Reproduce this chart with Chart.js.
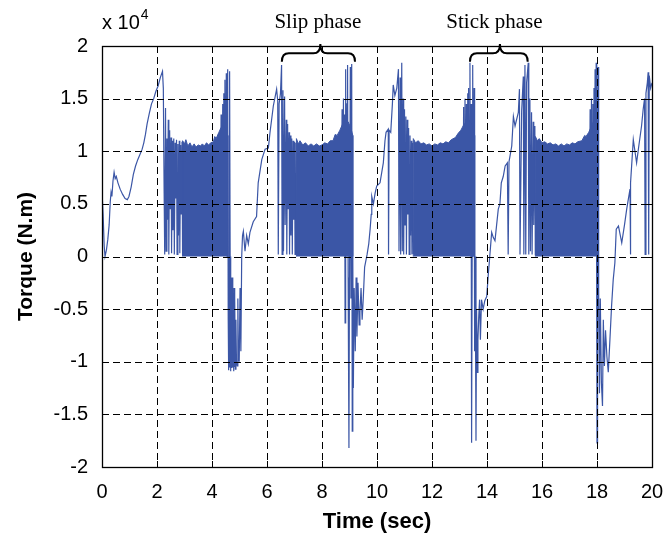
<!DOCTYPE html>
<html>
<head>
<meta charset="utf-8">
<title>Torque vs time</title>
<script src="https://cdn.jsdelivr.net/npm/chart.js@4.4.1/dist/chart.umd.min.js"></script>
<style>
    html, body { margin: 0; padding: 0; background: #fff; }
    #wrap { width: 667px; height: 537px; }
</style>
</head>
<body>
<div id="wrap"><canvas id="torqueChart" width="667" height="537"></canvas></div>
<script>
// Torque in units of 1e4 N.m, time in seconds: [t, torque]
const startupRamp = [
    [0.00, 0.62], [0.04, 0.40], [0.08, 0.10], [0.11, 0.00], [0.16, 0.06], [0.21, 0.16],
    [0.26, 0.30], [0.30, 0.52], [0.33, 0.61], [0.36, 0.57], [0.40, 0.72], [0.44, 0.80],
    [0.48, 0.74], [0.52, 0.76], [0.58, 0.70], [0.66, 0.64], [0.75, 0.59], [0.84, 0.55],
    [0.92, 0.54], [0.98, 0.57], [1.06, 0.66], [1.14, 0.78], [1.22, 0.86], [1.30, 0.92],
    [1.38, 0.97], [1.46, 1.02], [1.52, 1.08], [1.58, 1.16], [1.64, 1.26], [1.72, 1.36],
    [1.80, 1.45], [1.88, 1.50], [1.96, 1.57], [2.04, 1.62], [2.12, 1.70], [2.20, 1.76],
    [2.23, 1.60], [2.26, 0.60], [2.28, 0.02]
];

const cycle1Lead = [
    [2.31, 1.41], [2.33, 0.05], [2.36, 1.12], [2.38, 0.35], [2.41, 1.30], [2.43, 0.02],
    [2.46, 1.20], [2.48, 0.45], [2.51, 1.13], [2.53, 0.03], [2.56, 1.10], [2.58, 0.25],
    [2.61, 1.12], [2.63, 0.02], [2.66, 1.08], [2.68, 0.55], [2.71, 1.11], [2.73, 0.02],
    [2.76, 1.07], [2.78, 0.20], [2.81, 1.10], [2.83, 0.03], [2.86, 1.06], [2.88, 0.40],
    [2.91, 1.09], [2.93, 0.02]
];

const cycle1Tail = [
    [4.30, 0.05], [4.33, 1.35], [4.36, 0.10], [4.39, 1.45], [4.41, 0.05],
    [4.43, 1.55], [4.45, 0.10], [4.47, 1.68], [4.49, 0.05], [4.52, 1.74], [4.54, 0.00],
    [4.57, 1.78], [4.59, -0.60], [4.60, -1.08], [4.61, 0.00], [4.62, -1.05], [4.63, 0.00],
    [4.65, 1.76], [4.66, 0.00], [4.67, -1.09], [4.68, -0.10], [4.69, -1.09], [4.70, -0.20],
    [4.71, -1.06], [4.72, -0.30], [4.74, -1.05], [4.75, -0.20], [4.76, -1.02], [4.77, -0.50],
    [4.79, -1.09], [4.80, -0.30], [4.82, -1.05], [4.83, -0.40], [4.85, -1.07], [4.87, -0.60],
    [4.89, -1.00], [4.92, -1.04], [4.94, -0.40], [4.96, -0.95], [4.99, -1.00], [5.02, -0.30],
    [5.05, -0.90], [5.08, 0.00], [5.11, 0.20], [5.14, 0.24], [5.20, 0.05], [5.26, 0.20],
    [5.32, 0.12], [5.38, 0.23], [5.50, 0.33], [5.62, 0.38], [5.68, 0.70], [5.81, 0.92],
    [5.93, 1.02], [6.05, 1.03], [6.11, 1.18], [6.23, 1.43], [6.35, 1.59], [6.39, 1.48],
    [6.41, 0.02], [6.44, 1.45], [6.49, 1.55], [6.53, 1.82], [6.55, 0.02]
];

const cycle2Lead = [
    [6.58, 1.58], [6.60, 0.05], [6.64, 1.52], [6.66, 0.30], [6.70, 1.30], [6.72, 0.02],
    [6.75, 1.26], [6.77, 0.45], [6.80, 1.18], [6.82, 0.02], [6.85, 1.15], [6.87, 0.20],
    [6.90, 1.12], [6.92, 0.02], [6.95, 1.10], [6.97, 0.35], [7.00, 1.09], [7.02, 0.02],
    [7.05, 1.08], [7.07, 0.03]
];

const cycle2Tail = [
    [8.70, 0.05], [8.73, 1.40], [8.75, 0.10], [8.78, 1.50], [8.80, 0.05],
    [8.82, 1.35], [8.84, -0.63], [8.86, 1.78], [8.88, 0.00], [8.91, 1.45], [8.93, 1.82],
    [8.95, -0.20], [8.98, -1.82], [9.00, 0.00], [9.03, 1.80], [9.05, -0.40], [9.08, 1.83],
    [9.10, -1.66], [9.12, 0.00], [9.14, -1.25], [9.17, -0.30], [9.21, -0.90], [9.24, -0.20],
    [9.27, -0.76], [9.31, -0.25], [9.35, -0.65], [9.38, -0.53], [9.42, -0.30], [9.46, -0.60],
    [9.50, -0.40], [9.55, -0.10], [9.64, 0.02], [9.70, 0.12], [9.75, 0.26], [9.79, 0.40],
    [9.81, 0.57], [9.87, 0.50], [9.93, 0.60], [9.99, 0.67], [10.11, 0.70], [10.23, 0.89],
    [10.29, 1.10], [10.33, 1.18], [10.41, 1.21], [10.42, 0.02], [10.44, 1.20], [10.50, 1.18],
    [10.56, 1.45], [10.59, 1.63], [10.65, 1.53], [10.72, 1.60], [10.78, 1.78], [10.80, 0.05],
    [10.84, 1.70], [10.86, 0.02], [10.90, 1.84], [10.92, 0.05]
];

const cycle3Lead = [
    [10.95, 1.50], [10.97, 0.02], [11.00, 1.40], [11.02, 0.30], [11.05, 1.33], [11.07, 0.02],
    [11.10, 1.30], [11.12, 0.40], [11.15, 1.22], [11.17, 0.02], [11.20, 1.15], [11.22, 0.20],
    [11.25, 1.10], [11.27, 0.02], [11.30, 1.08], [11.32, 0.03]
];

const cycle3Tail = [
    [13.12, 0.05], [13.15, 1.42], [13.17, 0.05], [13.20, 1.50], [13.22, 0.05],
    [13.25, 1.45], [13.27, 0.05], [13.30, 1.55], [13.31, 0.05],
    [13.33, 1.60], [13.36, 0.02], [13.38, 1.84], [13.40, 0.00], [13.42, 1.45],
    [13.44, -1.77], [13.46, 0.00], [13.48, 1.82], [13.50, 0.10], [13.53, 1.60], [13.55, -0.90],
    [13.57, 0.00], [13.60, -1.75], [13.62, -0.50], [13.65, -1.10], [13.67, -0.79], [13.70, -0.57],
    [13.73, -0.41], [13.76, -0.79], [13.80, -0.41], [13.86, -0.50], [13.92, -0.42], [13.99, -0.38],
    [14.05, -0.16], [14.10, 0.00], [14.17, 0.23], [14.23, 0.18], [14.29, 0.15], [14.35, 0.30],
    [14.41, 0.45], [14.47, 0.50], [14.52, 0.70], [14.59, 0.76], [14.66, 0.86], [14.74, 0.89],
    [14.77, 0.02], [14.80, 0.90], [14.90, 1.05], [14.96, 1.33], [15.02, 1.24], [15.14, 1.37],
    [15.18, 1.59], [15.20, 0.02], [15.26, 1.38], [15.32, 1.71], [15.34, 0.02], [15.38, 1.82],
    [15.41, 0.02], [15.44, 1.65], [15.50, 1.84], [15.52, 0.02], [15.56, 1.50], [15.58, 0.05],
    [15.62, 1.37], [15.64, 0.02], [15.68, 1.28], [15.70, 0.30], [15.74, 1.24], [15.76, 0.02]
];

const cycle4Tail = [
    [17.72, 0.05], [17.75, 1.40], [17.77, 0.05], [17.80, 1.50], [17.82, 0.05],
    [17.85, 1.45], [17.87, 0.05], [17.89, 1.60], [17.91, 0.02], [17.93, 1.78], [17.95, 0.05], [17.97, 1.84],
    [17.99, -0.50], [18.00, -1.77], [18.02, 0.00], [18.04, 1.80], [18.06, -0.30], [18.09, -1.30],
    [18.12, -0.40], [18.16, -1.20], [18.20, -1.42], [18.23, -0.60], [18.27, -1.04], [18.31, -0.70],
    [18.36, -0.95], [18.41, -1.10], [18.47, -0.79], [18.53, -0.47], [18.59, -0.22], [18.65, -0.06],
    [18.70, 0.26], [18.78, 0.29], [18.90, 0.13], [19.00, 0.30], [19.08, 0.45], [19.20, 0.64],
    [19.21, 0.02], [19.23, 0.70], [19.32, 1.11], [19.38, 1.00], [19.44, 0.89], [19.52, 1.05],
    [19.62, 1.24], [19.68, 1.40], [19.73, 1.50], [19.75, 0.02], [19.78, 1.55], [19.83, 1.65],
    [19.86, 1.75], [19.88, 0.02], [19.90, 1.72], [19.95, 1.60], [20.00, 1.65]
];

// upper envelope of the fast stick-slip chatter, filled down to zero
const band1Top = [
    [2.93, 0], [2.93, 1.10], [3.00, 1.07], [3.05, 1.11], [3.12, 1.05], [3.20, 1.08],
    [3.27, 1.04], [3.35, 1.07], [3.42, 1.04], [3.50, 1.06], [3.58, 1.05], [3.65, 1.07],
    [3.72, 1.05], [3.80, 1.08], [3.88, 1.06], [3.95, 1.08], [4.05, 1.09], [4.10, 1.14],
    [4.15, 1.12], [4.25, 1.18], [4.32, 1.22], [4.40, 1.25], [4.48, 1.22], [4.55, 1.15], [4.58, 0]
];
const band2Top = [
    [7.07, 0], [7.07, 1.12], [7.14, 1.07], [7.20, 1.10], [7.30, 1.06], [7.40, 1.08],
    [7.50, 1.05], [7.60, 1.07], [7.70, 1.05], [7.80, 1.07], [7.90, 1.05], [8.00, 1.06],
    [8.10, 1.08], [8.20, 1.07], [8.30, 1.10], [8.40, 1.10], [8.48, 1.16], [8.55, 1.15],
    [8.65, 1.20], [8.75, 1.26], [8.85, 1.30], [8.95, 1.28], [9.05, 1.22], [9.12, 1.15], [9.12, 0]
];
const band3Top = [
    [11.32, 0], [11.32, 1.12], [11.40, 1.08], [11.50, 1.10], [11.60, 1.07], [11.70, 1.08],
    [11.80, 1.06], [11.90, 1.07], [12.00, 1.05], [12.10, 1.07], [12.20, 1.06], [12.30, 1.08],
    [12.40, 1.07], [12.50, 1.09], [12.60, 1.08], [12.70, 1.11], [12.85, 1.13], [12.95, 1.17],
    [13.05, 1.20], [13.15, 1.25], [13.25, 1.28], [13.35, 1.30], [13.45, 1.25], [13.55, 1.15], [13.55, 0]
];
const band4Top = [
    [15.76, 0], [15.76, 1.14], [15.83, 1.10], [15.90, 1.12], [16.00, 1.08], [16.10, 1.09],
    [16.20, 1.07], [16.30, 1.08], [16.40, 1.06], [16.50, 1.07], [16.60, 1.05], [16.70, 1.07],
    [16.80, 1.05], [16.90, 1.07], [17.00, 1.06], [17.10, 1.08], [17.20, 1.07], [17.30, 1.09],
    [17.45, 1.10], [17.55, 1.15], [17.60, 1.14], [17.70, 1.18], [17.80, 1.24], [17.90, 1.30],
    [17.98, 1.30], [18.05, 1.20], [18.05, 0]
];

const xTicks = [0, 2, 4, 6, 8, 10, 12, 14, 16, 18, 20];
const yTicks = [-2, -1.5, -1, -0.5, 0, 0.5, 1, 1.5, 2];
const yTickLabels = ['-2', '-1.5', '-1', '-0.5', '0', '0.5', '1', '1.5', '2'];

// phase labels: [text, text centre, brace start, brace peak, brace end] in seconds
const phaseNotes = [
    ['Slip phase', 7.85, 6.54, 7.94, 9.20],
    ['Stick phase', 14.27, 13.38, 14.47, 15.48]
];

const BLUE = '#3b56a6';
const SANS = '"Liberation Sans", Arial, Helvetica, sans-serif';
const SERIF = '"Liberation Serif", "Times New Roman", serif';

const toPoints = rows => rows.map(([x, y]) => ({ x, y }));
const gap = t => ({ x: t, y: null });

const tracePoints = toPoints([].concat(
    startupRamp, cycle1Lead, cycle1Tail, cycle2Lead, cycle2Tail,
    cycle3Lead, cycle3Tail, cycle4Tail
));

const bandPoints = [].concat(
    toPoints(band1Top), [gap(5)], toPoints(band2Top), [gap(10)],
    toPoints(band3Top), [gap(14)], toPoints(band4Top)
);

// grid on top of the data, box with inward ticks, braces and labels
const frameAndNotes = {
    id: 'frameAndNotes',
    afterDatasetsDraw(chart) {
        const { ctx, chartArea: { left, right, top, bottom }, scales: { x, y } } = chart;
        const line = (x1, y1, x2, y2) => {
            ctx.beginPath();
            ctx.moveTo(x1, y1);
            ctx.lineTo(x2, y2);
            ctx.stroke();
        };
        ctx.save();
        ctx.strokeStyle = '#000';
        ctx.lineWidth = 1;

        ctx.setLineDash([7, 4]);
        xTicks.slice(1, -1).forEach(v => {
            const px = Math.round(x.getPixelForValue(v)) + 0.5;
            line(px, top, px, bottom);
        });
        yTicks.slice(1, -1).forEach(v => {
            const py = Math.round(y.getPixelForValue(v)) + 0.5;
            line(left, py, right, py);
        });
        ctx.setLineDash([]);

        xTicks.forEach(v => {
            const px = Math.round(x.getPixelForValue(v)) + 0.5;
            line(px, bottom, px, bottom - 6);
            line(px, top, px, top + 6);
        });
        yTicks.forEach(v => {
            const py = Math.round(y.getPixelForValue(v)) + 0.5;
            line(left, py, left + 6, py);
            line(right, py, right - 6, py);
        });
        ctx.lineWidth = 1.3;
        ctx.strokeRect(Math.round(left) + 0.5, Math.round(top) + 0.5,
            Math.round(right - left), Math.round(bottom - top));

        // exponent of the y axis
        ctx.fillStyle = '#000';
        ctx.textBaseline = 'alphabetic';
        ctx.textAlign = 'left';
        ctx.font = '20px ' + SANS;
        ctx.fillText('x 10', left, 29);
        const w = ctx.measureText('x 10').width;
        ctx.font = '14px ' + SANS;
        ctx.fillText('4', left + w + 1, 19);

        // curly braces over the phases
        ctx.lineWidth = 2;
        const yb = y.getPixelForValue(1.85);
        const ym = y.getPixelForValue(1.93);
        const yt = y.getPixelForValue(2.02);
        const r = 7;
        phaseNotes.forEach(([text, tText, t1, tc, t2]) => {
            const x1 = x.getPixelForValue(t1);
            const xc = x.getPixelForValue(tc);
            const x2 = x.getPixelForValue(t2);
            ctx.beginPath();
            ctx.moveTo(x1, yb);
            ctx.quadraticCurveTo(x1, ym, x1 + r, ym);
            ctx.lineTo(xc - r, ym);
            ctx.quadraticCurveTo(xc, ym, xc, yt);
            ctx.quadraticCurveTo(xc, ym, xc + r, ym);
            ctx.lineTo(x2 - r, ym);
            ctx.quadraticCurveTo(x2, ym, x2, yb);
            ctx.stroke();

            ctx.font = '21px ' + SERIF;
            ctx.textAlign = 'center';
            ctx.fillText(text, x.getPixelForValue(tText), 28);
        });
        ctx.restore();
    }
};

const ctx = document.getElementById('torqueChart').getContext('2d');
new Chart(ctx, {
    type: 'line',
    data: {
        datasets: [
            {
                label: 'chatter',
                data: bandPoints,
                borderColor: BLUE,
                backgroundColor: BLUE,
                borderWidth: 1,
                pointRadius: 0,
                fill: 'origin',
                spanGaps: false,
                tension: 0
            },
            {
                label: 'Torque',
                data: tracePoints,
                borderColor: BLUE,
                borderWidth: 1.2,
                pointRadius: 0,
                fill: false,
                tension: 0
            }
        ]
    },
    options: {
        responsive: false,
        animation: false,
        layout: { padding: { top: 46, right: 15, left: 0, bottom: 0 } },
        plugins: {
            legend: { display: false },
            tooltip: { enabled: false }
        },
        scales: {
            x: {
                type: 'linear',
                min: 0,
                max: 20,
                grid: { display: false, drawTicks: false },
                border: { display: false },
                afterBuildTicks: s => { s.ticks = xTicks.map(v => ({ value: v })); },
                afterFit: s => {
                    s.height = 70;
                    s.paddingLeft = 0;
                    s.paddingRight = 0;
                },
                ticks: {
                    color: '#000',
                    font: { family: SANS, size: 20 },
                    padding: 13,
                    maxRotation: 0,
                    autoSkip: false
                },
                title: {
                    display: true,
                    text: 'Time (sec)',
                    color: '#000',
                    font: { family: SANS, size: 22, weight: 'bold' },
                    padding: { top: 0, bottom: 2 }
                }
            },
            y: {
                type: 'linear',
                min: -2,
                max: 2,
                grid: { display: false, drawTicks: false },
                border: { display: false },
                afterBuildTicks: s => { s.ticks = yTicks.map(v => ({ value: v })); },
                afterFit: s => {
                    s.width = 102;
                    s.paddingTop = 0;
                    s.paddingBottom = 0;
                },
                ticks: {
                    color: '#000',
                    font: { family: SANS, size: 20 },
                    padding: 14,
                    autoSkip: false,
                    callback: v => yTickLabels[yTicks.indexOf(v)]
                },
                title: {
                    display: true,
                    text: 'Torque (N.m)',
                    color: '#000',
                    font: { family: SANS, size: 21, weight: 'bold' },
                    padding: { top: 14, bottom: 0 }
                }
            }
        }
    },
    plugins: [frameAndNotes]
});
</script>
</body>
</html>
